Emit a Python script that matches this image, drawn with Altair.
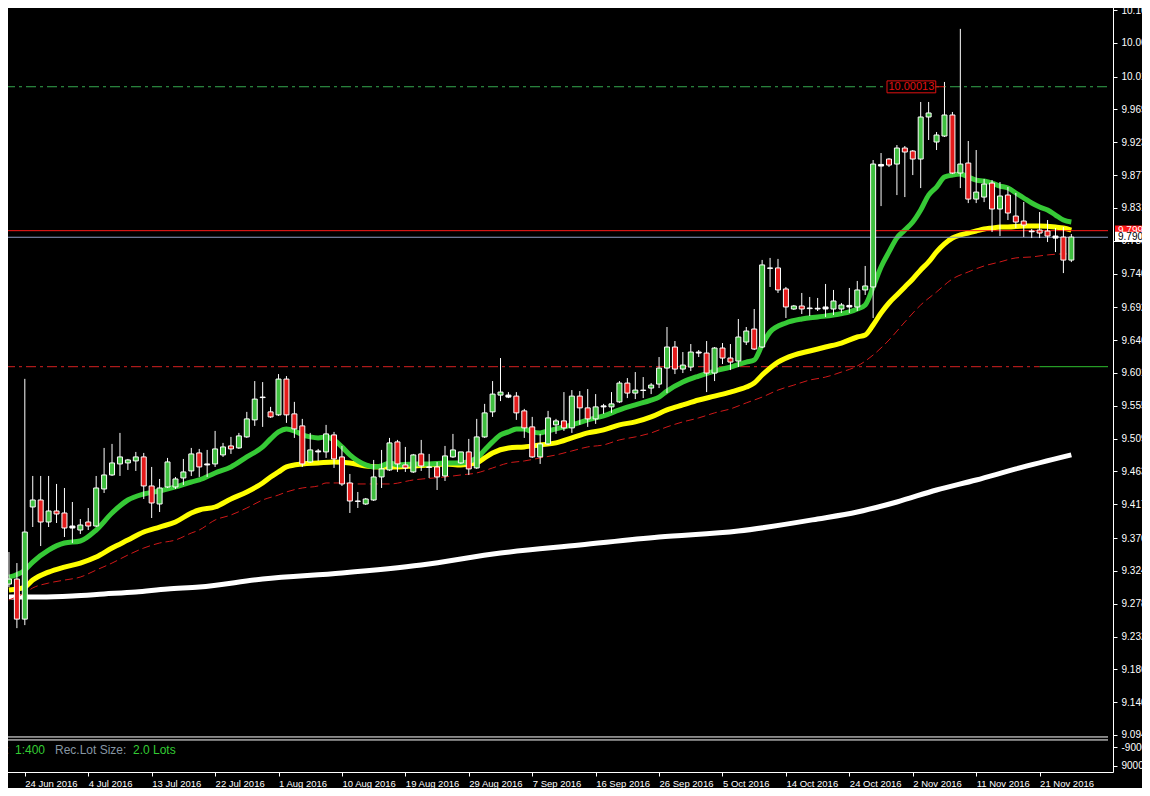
import altair as alt
import pandas as pd

# ---------------- data ----------------
IDX = list(range(-2, 133))  # bar index, 0 = 24 Jun 2016 (daily bars incl. Sunday bars)

OPEN = [9.3058, 9.3128, 9.2568, 9.4136, 9.4234, 9.3926, 9.4080, 9.4052, 9.3842, 9.3814,
        9.3926, 9.3870, 9.4388, 9.4584, 9.4738, 9.4752, 9.4780, 9.4836, 9.4430, 9.4178,
        9.4416, 9.4416, 9.4542, 9.4640, 9.4892, 9.4738, 9.4738, 9.4864, 9.4990, 9.4962,
        9.5116, 9.5354, 9.5673, 9.5466, 9.5424, 9.5925, 9.5438, 9.5270, 9.4766, 9.4906,
        9.4906, 9.5144, 9.4836, 9.4472, 9.4220, 9.4178, 9.4234, 9.4556, 9.4654, 9.5046,
        9.4724, 9.4626, 9.4878, 9.4696, 9.4696, 9.4570, 9.4836, 9.4752, 9.4906, 9.4682,
        9.5116, 9.5466, 9.5701, 9.5673, 9.5687, 9.5480, 9.5256, 9.4836, 9.5018, 9.5284,
        9.5340, 9.5242, 9.5687, 9.5522, 9.5368, 9.5536, 9.5536, 9.5606, 9.5869, 9.5729,
        9.5771, 9.5799, 9.5855, 9.6079, 9.6373, 9.6065, 9.6093, 9.6289, 9.6289, 9.6009,
        9.6359, 9.6219, 9.6177, 9.6443, 9.6625, 9.6373, 9.7479, 9.7479, 9.7185, 9.6905,
        9.6947, 9.6919, 9.6905, 9.6933, 9.6905, 9.6905, 9.6933, 9.6933, 9.7171, 9.7213,
        9.8904, 9.9002, 9.8932, 9.9156, 9.9114, 9.9002, 9.9590, 9.9240, 9.9324, 9.9618,
        9.8806, 9.8946, 9.8442, 9.8470, 9.8666, 9.8303, 9.8499, 9.8205, 9.8135, 9.7995,
        9.8009, 9.7995, 9.7925, 9.7911, 9.7589]

HIGH = [9.3506, 9.3352, 9.5928, 9.4570, 9.4570, 9.4570, 9.4458, 9.4402, 9.4206, 9.3968,
        9.4122, 9.4570, 9.4962, 9.5018, 9.5172, 9.4808, 9.4906, 9.4892, 9.4696, 9.4528,
        9.4822, 9.4556, 9.4808, 9.4962, 9.4948, 9.4934, 9.5200, 9.5032, 9.5116, 9.5172,
        9.5466, 9.5897, 9.5883, 9.5536, 9.5995, 9.5967, 9.5606, 9.5368, 9.5172, 9.4948,
        9.5284, 9.5186, 9.4990, 9.4598, 9.4346, 9.4262, 9.4794, 9.4934, 9.5102, 9.5074,
        9.4976, 9.4878, 9.5074, 9.4878, 9.4766, 9.4990, 9.5158, 9.4906, 9.5088, 9.5368,
        9.5578, 9.5897, 9.6219, 9.5743, 9.5743, 9.5508, 9.5396, 9.5158, 9.5480, 9.5368,
        9.5743, 9.5771, 9.5757, 9.5785, 9.5715, 9.5578, 9.5743, 9.5897, 9.5939, 9.6023,
        9.5953, 9.5869, 9.6233, 9.6653, 9.6457, 9.6303, 9.6415, 9.6331, 9.6457, 9.6373,
        9.6429, 9.6415, 9.6765, 9.6653, 9.6905, 9.7591, 9.7619, 9.7605, 9.7213, 9.6961,
        9.7129, 9.7073, 9.7059, 9.7255, 9.7171, 9.6989, 9.7199, 9.7297, 9.7507, 9.8988,
        9.9086, 9.9016, 9.9198, 9.9184, 9.9128, 9.9800, 9.9800, 9.9380, 10.0080, 9.9660,
        10.0822, 9.9254, 9.9128, 9.8722, 9.8708, 9.8680, 9.8611, 9.8527, 9.8401, 9.8023,
        9.8261, 9.8149, 9.8037, 9.8051, 9.7953]

LOW = [9.3016, 9.2442, 9.2484, 9.3856, 9.3590, 9.3856, 9.3912, 9.3716, 9.3632, 9.3758,
       9.3814, 9.3856, 9.4332, 9.4570, 9.4570, 9.4654, 9.4640, 9.4248, 9.3982, 9.4066,
       9.4402, 9.4388, 9.4444, 9.4570, 9.4556, 9.4556, 9.4696, 9.4836, 9.4878, 9.4948,
       9.5102, 9.5270, 9.5256, 9.5382, 9.5410, 9.5312, 9.5102, 9.4696, 9.4752, 9.4780,
       9.4822, 9.4682, 9.4430, 9.4052, 9.4122, 9.4164, 9.4220, 9.4402, 9.4640, 9.4626,
       9.4626, 9.4612, 9.4640, 9.4542, 9.4374, 9.4500, 9.4822, 9.4738, 9.4584, 9.4668,
       9.5102, 9.5396, 9.5617, 9.5659, 9.5354, 9.5102, 9.4822, 9.4738, 9.5004, 9.5158,
       9.5200, 9.5172, 9.5284, 9.5256, 9.5298, 9.5438, 9.5452, 9.5592, 9.5659, 9.5645,
       9.5659, 9.5715, 9.5799, 9.5729, 9.5995, 9.6009, 9.6037, 9.6233, 9.5743, 9.5897,
       9.6135, 9.6051, 9.6093, 9.6401, 9.6331, 9.6359, 9.7213, 9.7129, 9.6779, 9.6891,
       9.6835, 9.6807, 9.6877, 9.6793, 9.6821, 9.6849, 9.6849, 9.6877, 9.7101, 9.6779,
       9.8344, 9.8890, 9.8498, 9.8470, 9.8778, 9.8596, 9.9268, 9.9128, 9.9310, 9.8792,
       9.8596, 9.8386, 9.8386, 9.8400, 9.7981, 9.7925, 9.8149, 9.8037, 9.7911, 9.7897,
       9.7897, 9.7841, 9.7701, 9.7407, 9.7561]

CLOSE = [9.3128, 9.2568, 9.3786, 9.4234, 9.3926, 9.4080, 9.4038, 9.3842, 9.3870, 9.3884,
         9.3870, 9.4402, 9.4584, 9.4752, 9.4836, 9.4794, 9.4836, 9.4430, 9.4192, 9.4402,
         9.4766, 9.4528, 9.4626, 9.4878, 9.4696, 9.4724, 9.4948, 9.4976, 9.4948, 9.5130,
         9.5368, 9.5645, 9.5666, 9.5396, 9.5925, 9.5424, 9.5228, 9.4738, 9.4934, 9.4920,
         9.5158, 9.4808, 9.4458, 9.4220, 9.4214, 9.4248, 9.4556, 9.4668, 9.5032, 9.4738,
         9.4682, 9.4864, 9.4710, 9.4690, 9.4556, 9.4850, 9.4934, 9.4906, 9.4668, 9.5116,
         9.5452, 9.5715, 9.5743, 9.5701, 9.5452, 9.5242, 9.4836, 9.5018, 9.5382, 9.5340,
         9.5242, 9.5687, 9.5522, 9.5368, 9.5536, 9.5550, 9.5578, 9.5869, 9.5729, 9.5771,
         9.5765, 9.5841, 9.6079, 9.6373, 9.6065, 9.6121, 9.6303, 9.6303, 9.6009, 9.6359,
         9.6219, 9.6163, 9.6513, 9.6597, 9.6345, 9.7521, 9.7473, 9.7171, 9.6933, 9.6947,
         9.6905, 9.6910, 9.6915, 9.6905, 9.7017, 9.6961, 9.6955, 9.7171, 9.7227, 9.8932,
         9.8926, 9.8918, 9.9156, 9.9100, 9.9002, 9.9590, 9.9646, 9.9338, 9.9618, 9.8806,
         9.8932, 9.8442, 9.8540, 9.8652, 9.8303, 9.8485, 9.8247, 9.8121, 9.8079, 9.7985,
         9.7967, 9.7925, 9.7897, 9.7589, 9.7911]

GREEN_MA_IDX = [-2, 0, 1, 3, 5, 7, 9, 11, 13, 15, 17, 19, 21, 22, 24, 26, 28, 30, 31, 32,
                33, 34, 35, 36, 37, 38, 39, 40, 41, 42, 43, 44, 45, 46, 47, 49, 51, 53, 55, 57,
                58, 59, 60, 61, 62, 63, 64, 65, 66, 67, 68, 69, 71, 73, 75, 77, 79, 80, 81, 83,
                85, 87, 89, 91, 92, 93, 94, 96, 98, 100, 102, 104, 105, 106, 107, 108, 109, 110, 111, 112,
                113, 114, 115, 116, 117, 118, 119, 120, 121, 122, 123, 124, 125, 126, 127, 128, 129, 130, 131, 132]
GREEN_MA = [9.3156, 9.3254, 9.3366, 9.3534, 9.3632, 9.3660, 9.3814, 9.4052, 9.4234, 9.4318,
            9.4360, 9.4416, 9.4486, 9.4514, 9.4612, 9.4696, 9.4836, 9.4976, 9.5088, 9.5186,
            9.5228, 9.5200, 9.5144, 9.5116, 9.5102, 9.5116, 9.5074, 9.4976, 9.4864, 9.4780,
            9.4724, 9.4696, 9.4710, 9.4752, 9.4724, 9.4738, 9.4738, 9.4752, 9.4752, 9.4822,
            9.4934, 9.5046, 9.5144, 9.5186, 9.5228, 9.5228, 9.5186, 9.5172, 9.5200, 9.5228,
            9.5256, 9.5284, 9.5354, 9.5410, 9.5494, 9.5564, 9.5632, 9.5673, 9.5757, 9.5883,
            9.5967, 9.6037, 9.6093, 9.6163, 9.6191, 9.6401, 9.6583, 9.6709, 9.6765, 9.6793,
            9.6821, 9.6863, 9.6905, 9.6961, 9.7213, 9.7493, 9.7703, 9.7899, 9.8009, 9.8121,
            9.8289, 9.8498, 9.8610, 9.8750, 9.8778, 9.8792, 9.8750, 9.8708, 9.8694, 9.8666,
            9.8624, 9.8596, 9.8527, 9.8457, 9.8387, 9.8331, 9.8289, 9.8219, 9.8149, 9.8121]

YELLOW_MA_IDX = [-2, 0, 1, 3, 5, 7, 9, 11, 13, 15, 17, 19, 21, 22, 24, 26, 28, 30, 31, 32,
                 33, 35, 37, 39, 41, 43, 45, 47, 49, 51, 53, 55, 57, 58, 59, 61, 63, 65, 67, 69,
                 71, 73, 75, 77, 79, 81, 83, 85, 87, 89, 91, 92, 93, 95, 97, 99, 101, 103, 105, 106,
                 107, 108, 109, 110, 111, 112, 113, 114, 115, 116, 117, 118, 119, 120, 121, 122, 123, 124, 126, 128,
                 130, 131, 132]
YELLOW_MA = [9.2974, 9.3016, 9.3114, 9.3226, 9.3296, 9.3352, 9.3436, 9.3562, 9.3674, 9.3786,
             9.3856, 9.3926, 9.4052, 9.4094, 9.4136, 9.4248, 9.4346, 9.4472, 9.4556, 9.4626,
             9.4696, 9.4738, 9.4752, 9.4766, 9.4752, 9.4710, 9.4696, 9.4696, 9.4710, 9.4724,
             9.4738, 9.4724, 9.4752, 9.4822, 9.4892, 9.4962, 9.4976, 9.5004, 9.5032, 9.5102,
             9.5172, 9.5214, 9.5284, 9.5326, 9.5396, 9.5494, 9.5564, 9.5632, 9.5687, 9.5743,
             9.5813, 9.5869, 9.5981, 9.6163, 9.6261, 9.6317, 9.6373, 9.6429, 9.6513, 9.6541,
             9.6681, 9.6849, 9.6989, 9.7101, 9.7213, 9.7325, 9.7451, 9.7563, 9.7703, 9.7815,
             9.7898, 9.7940, 9.7968, 9.7996, 9.8023, 9.8037, 9.8051, 9.8051, 9.8065, 9.8065,
             9.8051, 9.8037, 9.8009]

RED_MA_IDX = [-2, 0, 1, 3, 5, 7, 9, 11, 13, 15, 17, 19, 21, 22, 24, 26, 28, 30, 32, 33,
              35, 37, 38, 40, 42, 44, 46, 49, 53, 55, 57, 59, 61, 63, 65, 67, 69, 71, 73, 75,
              77, 79, 81, 83, 85, 87, 89, 91, 93, 95, 97, 99, 101, 103, 105, 107, 109, 111, 113, 115,
              117, 119, 121, 123, 125, 127, 129, 131, 132]
RED_MA = [9.2836, 9.2934, 9.3004, 9.3072, 9.3114, 9.3156, 9.3254, 9.3352, 9.3464, 9.3562,
          9.3632, 9.3674, 9.3772, 9.3814, 9.3954, 9.4024, 9.4122, 9.4234, 9.4304, 9.4346,
          9.4402, 9.4430, 9.4472, 9.4472, 9.4458, 9.4458, 9.4458, 9.4514, 9.4556, 9.4584,
          9.4612, 9.4682, 9.4752, 9.4780, 9.4822, 9.4864, 9.4920, 9.4976, 9.5004, 9.5074,
          9.5116, 9.5172, 9.5256, 9.5326, 9.5382, 9.5452, 9.5508, 9.5592, 9.5673, 9.5771,
          9.5841, 9.5911, 9.5953, 9.6023, 9.6107, 9.6261, 9.6471, 9.6723, 9.6961, 9.7143,
          9.7325, 9.7423, 9.7507, 9.7563, 9.7619, 9.7633, 9.7661, 9.7675, 9.7675]

WHITE_MA_IDX = [-2, 2, 6, 10, 14, 18, 22, 30, 40, 50, 60, 70, 80, 90, 100, 105, 110, 115, 120, 125, 132]
WHITE_MA = [9.2878, 9.2878, 9.2892, 9.2920, 9.2948, 9.2990, 9.3016, 9.3128, 9.3212, 9.3324,
            9.3492, 9.3604, 9.3716, 9.3800, 9.3968, 9.4066, 9.4206, 9.4374, 9.4514, 9.4668, 9.4864]

Y_TICKS = [10.1086, 10.0627, 10.0154, 9.96955, 9.92365, 9.87775, 9.83185, 9.78595, 9.74005,
           9.6928, 9.6469, 9.601, 9.5551, 9.5092, 9.4633, 9.4174, 9.37015, 9.32425, 9.27835,
           9.23245, 9.18655, 9.14065, 9.09475]
SUB_TICKS = [9.0778, 9.0514]           # lower sub-window scale
SUB_LABELS = ["-900000", "9000000"]

DATE_IDX = [-8, 0, 8, 16, 24, 32, 40, 48, 56, 64, 72, 80, 88, 96, 104, 112, 120, 128]
DATE_LABELS = ["15 Jun 2016", "24 Jun 2016", "4 Jul 2016", "13 Jul 2016", "22 Jul 2016", "1 Aug 2016",
               "10 Aug 2016", "19 Aug 2016", "29 Aug 2016", "7 Sep 2016", "16 Sep 2016",
               "26 Sep 2016", "5 Oct 2016", "14 Oct 2016", "24 Oct 2016", "2 Nov 2016",
               "11 Nov 2016", "21 Nov 2016"]

LEVEL_TARGET = 10.0013    # green dash-dot level with "10.00013" label
LEVEL_RED = 9.8000        # red solid line
LEVEL_BID = 9.7908        # bid line
LEVEL_LOW = 9.6098        # red dash-dot level
ASK_LABEL = "9.7996"
BID_LABEL = "9.7908"
TARGET_LABEL = "10.00013"
SEPARATORS = [9.0920, 9.0878]
SUB_TEXT_Y = 9.0738

assert len(OPEN) == len(HIGH) == len(LOW) == len(CLOSE) == len(IDX)
assert len(GREEN_MA_IDX) == len(GREEN_MA)
assert len(YELLOW_MA_IDX) == len(YELLOW_MA)
assert len(RED_MA_IDX) == len(RED_MA)
assert len(WHITE_MA_IDX) == len(WHITE_MA)
assert len(DATE_IDX) == len(DATE_LABELS)

# ---------------- chart ----------------
W, H = 1113, 772
FONT = "Liberation Sans"
XMIN, XMAX = -2.5, 136.625
YMIN, YMAX = 9.0430, 10.1226

XSCALE = alt.Scale(domain=[XMIN, XMAX], nice=False, zero=False)
YSCALE = alt.Scale(domain=[YMIN, YMAX], nice=False, zero=False)

date_arr = "[" + ",".join("'%s'" % s for s in DATE_LABELS) + "]"
idx_arr = "[" + ",".join(str(v) for v in DATE_IDX) + "]"
XAXIS = alt.Axis(values=DATE_IDX, labelExpr=f"{date_arr}[indexof({idx_arr}, datum.value)]",
                 tickSize=4, labelAlign="left", labelPadding=2, labelFontSize=9.5,
                 labelColor="white", domainColor="white", tickColor="white", grid=False,
                 labelFont=FONT, labelOverlap=False, labelFlush=False, labelBaseline="top",
                 title=None)
YAXIS = alt.Axis(orient="right", values=Y_TICKS + SUB_TICKS,
                 labelExpr=(f"datum.value < 9.085 ? (datum.value > 9.06 ? '{SUB_LABELS[0]}' : '{SUB_LABELS[1]}')"
                            " : (datum.value >= 10 ? format(datum.value, '.4f') : format(datum.value, '.5f'))"),
                 tickSize=4, labelPadding=4, labelFontSize=10, labelColor="white",
                 domainColor="white", tickColor="white", grid=False, labelFont=FONT,
                 labelOverlap=False, labelFlush=False, title=None)


def X(field="i"):
    return alt.X(f"{field}:Q", scale=XSCALE, axis=XAXIS)


def Y(field):
    return alt.Y(f"{field}:Q", scale=YSCALE, axis=YAXIS)


candles = pd.DataFrame({"i": IDX, "open": OPEN, "high": HIGH, "low": LOW, "close": CLOSE})
candles["kind"] = [
    "doji" if abs(c - o) < 0.003 else ("up" if c > o else "down")
    for o, c in zip(OPEN, CLOSE)
]

layers = []

# horizontal levels
hl = pd.DataFrame({"x0": [XMIN], "x1": [XMAX], "p": [LEVEL_TARGET]})
layers.append(alt.Chart(hl).mark_rule(color="#35a84f", strokeWidth=1, strokeDash=[10, 4, 3, 4], clip=True)
              .encode(x=X("x0"), x2="x1", y=Y("p")))
hl_low = pd.DataFrame({"x0": [XMIN], "x1": [128.0], "p": [LEVEL_LOW]})
layers.append(alt.Chart(hl_low).mark_rule(color="#d42020", strokeWidth=1, strokeDash=[10, 4, 3, 4], clip=True)
              .encode(x=X("x0"), x2="x1", y=Y("p")))
hl_low2 = pd.DataFrame({"x0": [128.0], "x1": [XMAX], "p": [LEVEL_LOW]})
layers.append(alt.Chart(hl_low2).mark_rule(color="#2fbf2f", strokeWidth=1, clip=True)
              .encode(x=X("x0"), x2="x1", y=Y("p")))

# moving averages
ma_white = pd.DataFrame({"i": WHITE_MA_IDX, "v": WHITE_MA})
ma_red = pd.DataFrame({"i": RED_MA_IDX, "v": RED_MA})
ma_yellow = pd.DataFrame({"i": YELLOW_MA_IDX, "v": YELLOW_MA})
ma_green = pd.DataFrame({"i": GREEN_MA_IDX, "v": GREEN_MA})
layers.append(alt.Chart(ma_white).mark_line(color="#ffffff", strokeWidth=5, interpolate="monotone", clip=True)
              .encode(x=X(), y=Y("v")))
layers.append(alt.Chart(ma_red).mark_line(color="#d01818", strokeWidth=1, strokeDash=[8, 4], interpolate="monotone", clip=True)
              .encode(x=X(), y=Y("v")))
layers.append(alt.Chart(ma_yellow).mark_line(color="#ffff00", strokeWidth=5, interpolate="monotone", clip=True)
              .encode(x=X(), y=Y("v")))
layers.append(alt.Chart(ma_green).mark_line(color="#36c936", strokeWidth=5, interpolate="monotone", clip=True)
              .encode(x=X(), y=Y("v")))

# price lines
pl = pd.DataFrame({"x0": [XMIN], "x1": [XMAX], "p": [LEVEL_RED]})
layers.append(alt.Chart(pl).mark_rule(color="#ff1a1a", strokeWidth=1, clip=True)
              .encode(x=X("x0"), x2="x1", y=Y("p")))
pb = pd.DataFrame({"x0": [XMIN], "x1": [XMAX], "p": [LEVEL_BID]})
layers.append(alt.Chart(pb).mark_rule(color="#8e9cc4", strokeWidth=1, clip=True)
              .encode(x=X("x0"), x2="x1", y=Y("p")))

# candles
layers.append(alt.Chart(candles).mark_rule(color="white", strokeWidth=1, clip=True)
              .encode(x=X(), y=Y("high"), y2="low"))
layers.append(alt.Chart(candles).mark_bar(width=5, stroke="white", strokeWidth=1, clip=True)
              .encode(x=X(), y=Y("open"), y2="close",
                      fill=alt.Fill("kind:N", scale=alt.Scale(domain=["up", "down", "doji"],
                                                              range=["#3fbf3f", "#e41b1b", "#ffffff"]),
                                    legend=None)))

# target label box
tbox = pd.DataFrame({"x0": [108.75], "x1": [114.9], "p0": [10.0095], "p1": [9.9928],
                     "xc": [111.82], "pc": [LEVEL_TARGET], "t": [TARGET_LABEL]})
layers.append(alt.Chart(tbox).mark_rect(fill="black", stroke="#e01010", strokeWidth=1)
              .encode(x=X("x0"), x2="x1", y=Y("p0"), y2="p1"))
layers.append(alt.Chart(tbox).mark_text(color="#e01010", font=FONT, fontSize=11, align="center", baseline="middle")
              .encode(x=X("xc"), y=Y("pc"), text="t:N"))
tseg = pd.DataFrame({"x0": [114.9], "x1": [116.0], "p": [LEVEL_TARGET]})
layers.append(alt.Chart(tseg).mark_rule(color="#e01010", strokeWidth=1)
              .encode(x=X("x0"), x2="x1", y=Y("p")))

# separators of the lower sub-window
sep = pd.DataFrame({"x0": [XMIN, XMIN], "x1": [XMAX, XMAX], "p": SEPARATORS})
layers.append(alt.Chart(sep).mark_rule(color="white", strokeWidth=1)
              .encode(x=X("x0"), x2="x1", y=Y("p")))

# sub-window text
sub = pd.DataFrame({"p": [SUB_TEXT_Y]})
for txt, px, col, al in [("Leverage:", 9, "#8796a3", "right"), ("1:400", 15, "#33cc33", "left"),
                         ("Rec.Lot Size:", 55, "#8796a3", "left"), ("2.0 Lots", 133, "#33cc33", "left")]:
    layers.append(alt.Chart(sub).mark_text(text=txt, color=col, font=FONT, fontSize=12, align=al,
                                           baseline="middle", clip=True)
                  .encode(x=alt.value(px), y=Y("p")))

# price boxes on the right axis
ask = pd.DataFrame({"p0": [9.8072], "p1": [9.7930], "pc": [9.8001], "t": [ASK_LABEL]})
bid = pd.DataFrame({"p0": [9.7984], "p1": [9.7842], "pc": [9.7913], "t": [BID_LABEL]})
layers.append(alt.Chart(ask).mark_rect(fill="#ff1a1a")
              .encode(x=alt.value(W + 2), x2=alt.value(W + 40), y=Y("p0"), y2="p1"))
layers.append(alt.Chart(ask).mark_text(color="white", font=FONT, fontSize=10, align="left", baseline="middle")
              .encode(x=alt.value(W + 5), y=Y("pc"), text="t:N"))
layers.append(alt.Chart(bid).mark_rect(fill="white")
              .encode(x=alt.value(W + 2), x2=alt.value(W + 40), y=Y("p0"), y2="p1"))
layers.append(alt.Chart(bid).mark_text(color="black", font=FONT, fontSize=10, align="left", baseline="middle")
              .encode(x=alt.value(W + 5), y=Y("pc"), text="t:N"))

chart = (
    alt.layer(*layers)
    .properties(width=W, height=H, background="black",
                padding={"left": -8, "top": -8, "right": 29, "bottom": 16},
                autosize=alt.AutoSizeParams(type="none"))
    .configure_view(stroke=None)
)

chart.save("out.html", embed_options={"renderer": "svg", "actions": False})
